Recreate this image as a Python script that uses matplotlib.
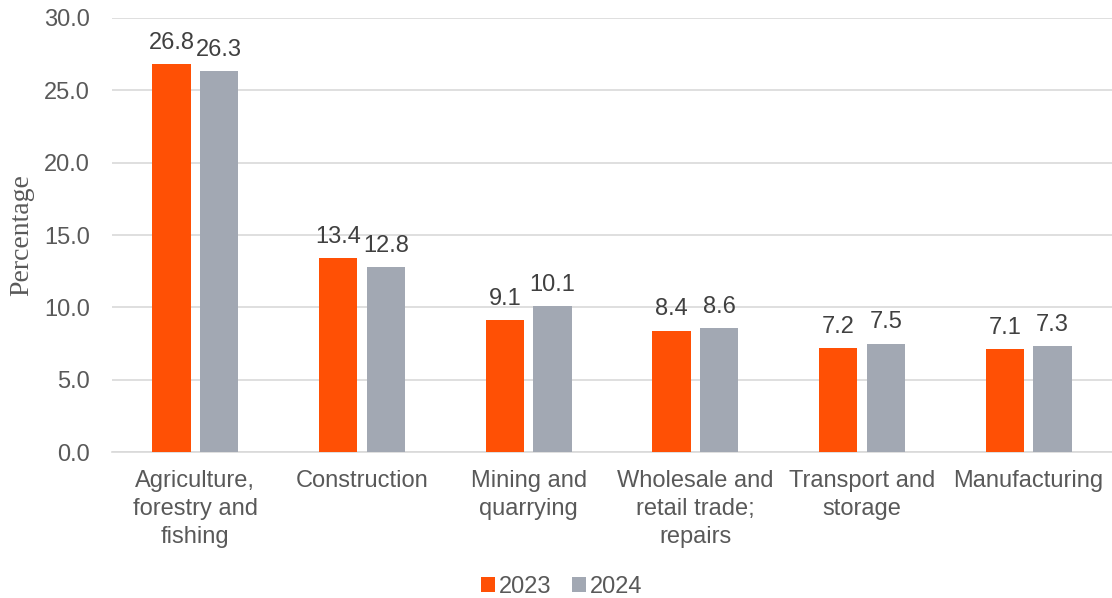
import matplotlib
matplotlib.use("Agg")
import matplotlib.pyplot as plt
import numpy as np

# sector shares of employment, percent
sectors = ["Agriculture,\nforestry and\nfishing", "Construction", "Mining and\nquarrying",
           "Wholesale and\nretail trade;\nrepairs", "Transport and\nstorage", "Manufacturing"]
share_2023 = [26.8, 13.4, 9.1, 8.4, 7.2, 7.1]
share_2024 = [26.3, 12.8, 10.1, 8.6, 7.5, 7.3]

ORANGE = "#FF5005"
GREY = "#A2A8B3"
TEXT = "#595959"

plt.rcParams["font.family"] = ["Liberation Sans", "DejaVu Sans"]

fig = plt.figure(figsize=(11.12, 5.98), dpi=100)
ax = fig.add_axes([0.1007, 0.244, 0.8993, 0.726])

x = np.arange(len(sectors))
w = 0.23
off = 0.143
b1 = ax.bar(x - off, share_2023, w, color=ORANGE, label="2023", zorder=3)
b2 = ax.bar(x + off, share_2024, w, color=GREY, label="2024", zorder=3)

for bars in (b1, b2):
    for r in bars:
        ax.text(r.get_x() + r.get_width() / 2, r.get_height() + 0.7, f"{r.get_height():.1f}",
                ha="center", va="bottom", fontsize=17, color="#404040")

ax.set_xlim(-0.5, len(sectors) - 0.5)
ax.set_ylim(0, 30)
ax.set_yticks(np.arange(0, 30.1, 5))
ax.set_yticklabels([f"{v:.1f}" for v in np.arange(0, 30.1, 5)])
ax.set_xticks(x)
ax.set_xticklabels(sectors, fontsize=17, color=TEXT, linespacing=1.35)
ax.tick_params(axis="y", labelsize=17, labelcolor=TEXT, length=0, pad=16)
ax.tick_params(axis="x", length=0, pad=13)
ax.grid(axis="y", color="#D9D9D9", linewidth=1.2, zorder=0)
for s in ["top", "right", "left"]:
    ax.spines[s].set_visible(False)
ax.spines["bottom"].set_color("#D9D9D9")
ax.spines["bottom"].set_linewidth(1.2)

ax.set_ylabel("Percentage", fontsize=20, color=TEXT, family="Liberation Serif", va="center")
ax.yaxis.set_label_coords(-0.09, 0.5)

fig.legend(loc="lower center", bbox_to_anchor=(0.505, -0.035), ncol=2, frameon=False,
           fontsize=17, labelcolor=TEXT, handlelength=0.6, handleheight=0.6,
           handletextpad=0.15, columnspacing=0.9)

fig.savefig("out.png", dpi=100, facecolor="white")
